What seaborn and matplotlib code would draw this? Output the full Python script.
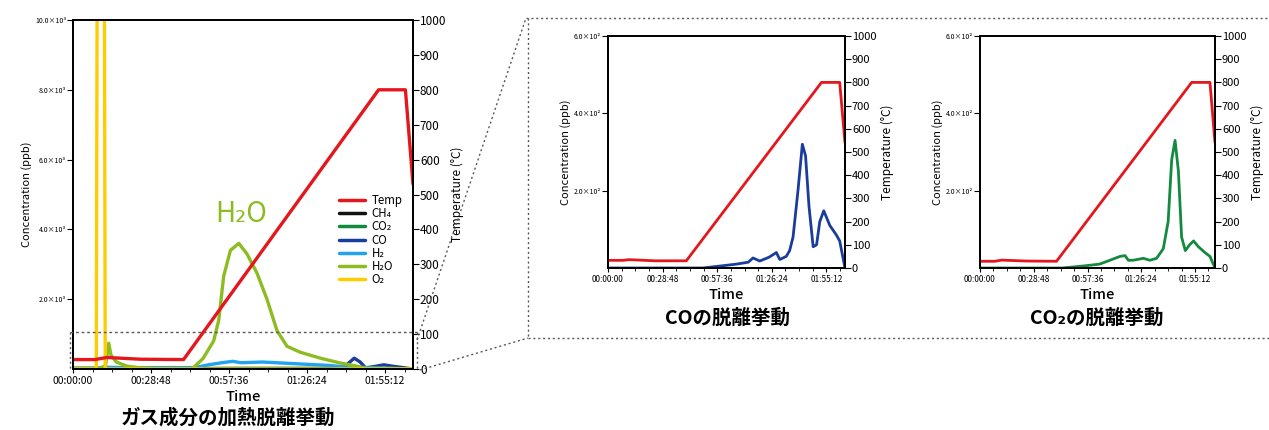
import matplotlib
matplotlib.use("Agg")
import matplotlib.pyplot as plt
from matplotlib.lines import Line2D
from matplotlib.ticker import FuncFormatter, MultipleLocator
import pandas as pd
import seaborn as sns

# ---------------- data (time in minutes) ----------------
gas_order = ["CH4", "CO2", "CO", "H2", "H2O", "O2"]
gas_labels = ["CH₄", "CO₂", "CO", "H₂", "H₂O", "O₂"]

# left panel, concentration in 10^3 ppb
ch4_t = [0, 125.5]
ch4_v = [0.0, 0.0]
co2_t = [0, 60, 90, 125.5]
co2_v = [0.0, 0.02, 0.02, 0.0]
co_t = [0, 95, 100, 103.8, 106, 108, 112, 114.7, 118, 125.5]
co_v = [0.0, 0.0, 0.05, 0.31, 0.2, 0.03, 0.08, 0.12, 0.08, 0.0]
h2_t = [0, 8, 12, 20, 45, 50, 55, 59, 62, 70, 75, 85, 95, 100, 110, 125.5]
h2_v = [0.03, 0.03, 0.05, 0.04, 0.04, 0.12, 0.18, 0.22, 0.18, 0.2, 0.18, 0.14, 0.1, 0.06, 0.04, 0.0]
h2o_t = [0, 10, 12, 13.2, 14, 16, 20, 25, 30, 43.9, 48, 51.9, 53.8, 55.6, 58.1, 61.2,
         64.2, 67.9, 71.6, 75.3, 79.0, 83.9, 91.3, 98.7, 104.8, 108.5, 125.5]
h2o_v = [0.02, 0.02, 0.1, 0.74, 0.4, 0.2, 0.08, 0.03, 0.01, 0.0, 0.3, 0.8, 1.4, 2.65, 3.4, 3.6,
         3.3, 2.75, 2.0, 1.1, 0.65, 0.48, 0.31, 0.17, 0.08, 0.0, 0.0]
o2_t = [0, 8.6, 8.9, 11.6, 11.9, 125.5]
o2_v = [0.0, 0.0, 10.5, 10.5, 0.0, 0.0]
temp_t = [0, 8, 12.5, 25, 40.8, 112.8, 122.7, 125.5]
temp_v = [27, 27, 33, 28, 27, 800, 800, 530]

# CO panel, concentration in 10^2 ppb
co_zoom_t = [0, 50, 59, 67.7, 74, 76.5, 80, 85, 88.8, 90.6, 94, 95.8, 97.6, 100.2, 102.5,
             104.2, 106, 108.2, 110, 111.7, 113.8, 117, 120.5, 122.2, 125]
co_zoom_v = [0.0, 0.0, 0.05, 0.1, 0.15, 0.26, 0.18, 0.28, 0.4, 0.22, 0.3, 0.45, 0.8, 2.0, 3.2,
             2.9, 1.6, 0.55, 0.6, 1.2, 1.48, 1.1, 0.85, 0.7, 0.0]
co_temp_t = [0, 8, 11, 25, 41.3, 112.6, 122.2, 125]
co_temp_v = [33, 33, 36, 31, 31, 800, 800, 540]

# CO2 panel, concentration in 10^2 ppb
co2_zoom_t = [0, 44, 55, 64, 69.6, 75, 77.7, 79.5, 82, 87.5, 91, 94.6, 98.2, 100.8, 102.7,
              104.5, 106.3, 108, 110, 112.3, 114.4, 117, 120.5, 123.2, 125.9]
co2_zoom_v = [0.0, 0.0, 0.05, 0.1, 0.2, 0.3, 0.32, 0.2, 0.2, 0.25, 0.2, 0.25, 0.5, 1.2, 2.8,
              3.3, 2.5, 0.8, 0.45, 0.6, 0.7, 0.55, 0.4, 0.3, 0.0]
co2_temp_t = [0, 8, 11.6, 25, 41, 113.4, 123.2, 125.9]
co2_temp_v = [29, 29, 34, 30, 29, 800, 800, 540]

time_ticks = [0, 28.8, 57.6, 86.4, 115.2]
temp_ticks = list(range(0, 1001, 100))

palette = {"CH4": "#111111", "CO2": "#138a3e", "CO": "#1a3c9c", "H2": "#22a3f0",
           "H2O": "#8dbb22", "O2": "#ffcc00"}
red = "#e4171d"

sns.set_style("ticks")
plt.rcParams["font.family"] = ["Noto Sans CJK JP", "DejaVu Sans"]
plt.rcParams["axes.linewidth"] = 1.3
for k in ["text.color", "axes.labelcolor", "xtick.color", "ytick.color", "axes.edgecolor"]:
    plt.rcParams[k] = "black"


def hms(v, _=None):
    s = int(round(v * 60))
    return f"{s // 3600:02d}:{s % 3600 // 60:02d}:{s % 60:02d}"


def draw_panel(ax, df, t_t, t_v, xmax, ymax, yticks, exp, lw=2.0, tick_fs=6.5, temp_fs=8):
    sns.lineplot(data=df, x="time", y="conc", hue="gas", palette=palette,
                 estimator=None, sort=False, lw=lw, legend=False, ax=ax)
    ax.set_xlim(0, xmax)
    ax.set_ylim(0, ymax)
    ax.set_xticks(time_ticks)
    ax.xaxis.set_major_formatter(FuncFormatter(hms))
    ax.xaxis.set_minor_locator(MultipleLocator(28.8 / 4))
    ax.set_yticks(yticks)
    ax.yaxis.set_major_formatter(FuncFormatter(lambda v, _: f"{v:.1f}×10{exp}"))
    ax.tick_params(axis="x", labelsize=tick_fs, length=3, pad=2)
    ax.tick_params(axis="x", which="minor", length=2)
    ax.tick_params(axis="y", labelsize=5, length=4, pad=1)
    ax.set_xlabel("Time", fontsize=10.5, fontweight="medium", labelpad=3)
    ax.set_ylabel("Concentration (ppb)", fontsize=8, labelpad=2)
    for s in ax.spines.values():
        s.set_visible(True)
        s.set_color("black")

    ax2 = ax.twinx()
    sns.lineplot(x=t_t, y=t_v, color=red, lw=lw, ax=ax2)
    ax2.set_ylim(0, 1000)
    ax2.set_yticks(temp_ticks)
    ax2.tick_params(axis="y", labelsize=temp_fs, length=4, pad=1)
    ax2.set_ylabel("Temperature (°C)", fontsize=8.5, labelpad=3)
    return ax2


fig = plt.figure(figsize=(12.69, 4.30), dpi=100)


def fpos(l, t, r, b):
    W, H = 1269, 430
    return [l / W, 1 - b / H, (r - l) / W, (b - t) / H]


# ---- left panel ----
left_df = pd.concat([
    pd.DataFrame({"time": t, "conc": v, "gas": g})
    for g, t, v in zip(gas_order, [ch4_t, co2_t, co_t, h2_t, h2o_t, o2_t],
                       [ch4_v, co2_v, co_v, h2_v, h2o_v, o2_v])
])
axL = fig.add_axes(fpos(73, 20, 413, 369))
draw_panel(axL, left_df, temp_t, temp_v, 125.5, 10, [2, 4, 6, 8, 10], "³",
           lw=2.4, tick_fs=7.5, temp_fs=8.5)
axL.text(62, 4.45, "H₂O", color=palette["H2O"], fontsize=20, ha="center", va="center")
handles = [Line2D([], [], color=red, lw=2.5)] + [Line2D([], [], color=palette[g], lw=2.5) for g in gas_order]
axL.legend(handles, ["Temp"] + gas_labels, loc="upper left", bbox_to_anchor=(0.77, 0.515),
           frameon=False, fontsize=8.3, handlelength=2.2, handletextpad=0.6,
           labelspacing=0.02, borderaxespad=0)
fig.text(228 / 1269, 1 - 418 / 430, "ガス成分の加熱脱離挙動", fontsize=14, fontweight="bold",
         ha="center", va="center")

# ---- CO panel ----
axC = fig.add_axes(fpos(608, 36, 845, 268))
draw_panel(axC, pd.DataFrame({"time": co_zoom_t, "conc": co_zoom_v, "gas": "CO"}),
           co_temp_t, co_temp_v, 125, 6, [2, 4, 6], "²", tick_fs=6)
fig.text(727 / 1269, 1 - 318 / 430, "COの脱離挙動", fontsize=14, fontweight="bold",
         ha="center", va="center")

# ---- CO2 panel ----
axD = fig.add_axes(fpos(980, 36, 1215, 268))
draw_panel(axD, pd.DataFrame({"time": co2_zoom_t, "conc": co2_zoom_v, "gas": "CO2"}),
           co2_temp_t, co2_temp_v, 125.9, 6, [2, 4, 6], "²", tick_fs=6)
fig.text(1097 / 1269, 1 - 318 / 430, "CO₂の脱離挙動", fontsize=14, fontweight="bold",
         ha="center", va="center")


# ---- zoom guide lines ----
def fline(x0, y0, x1, y1, ls=(0, (1.5, 2))):
    fig.add_artist(Line2D([x0 / 1269, x1 / 1269], [1 - y0 / 430, 1 - y1 / 430],
                          color="0.35", lw=1.0, ls=ls))


fline(70, 332, 417, 332, ls=(0, (2, 2)))
fline(70, 332, 70, 370)
fline(417, 332, 417, 370)
fline(417, 340, 526, 18)
fline(420, 370, 528, 338)
fline(526, 18, 1269, 18)
fline(528, 18, 528, 338)
fline(528, 338, 1269, 338)

fig.savefig("out.png", dpi=100)
